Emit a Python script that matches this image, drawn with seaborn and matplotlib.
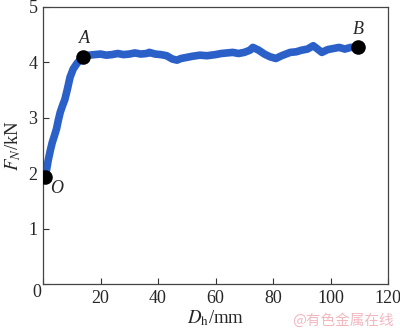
import matplotlib
matplotlib.use("Agg")
import matplotlib.pyplot as plt
import seaborn as sns
import pandas as pd

sns.set_theme(style="white")
plt.rcParams['font.family'] = ['Liberation Serif', 'DejaVu Serif']
plt.rcParams['mathtext.fontset'] = 'stix'

# Displacement D_h (mm) and force F_N (kN)
dh = [0.7, 1.2, 1.8, 2.5, 3.2, 4.0, 4.7, 5.3, 6.0, 6.8, 7.6, 8.5, 9.4, 10.5,
      11.8, 13.0, 14.0, 16, 18, 20, 22, 24, 26, 28, 30, 32, 34, 36, 37, 39,
      41, 43, 45, 46.6, 48, 50, 52, 54.6, 57, 60, 62, 64, 66, 68, 70, 72, 73,
      75, 77, 79, 81, 83, 86, 88, 90, 92, 94, 95.5, 97, 99, 101, 103, 105,
      107, 109.6]
fn = [1.93, 2.05, 2.23, 2.40, 2.55, 2.68, 2.80, 2.95, 3.10, 3.22, 3.33, 3.52,
      3.73, 3.88, 3.98, 4.05, 4.09, 4.13, 4.14, 4.15, 4.13, 4.14, 4.16, 4.14,
      4.15, 4.17, 4.15, 4.16, 4.18, 4.15, 4.14, 4.12, 4.06, 4.04, 4.07, 4.09,
      4.11, 4.13, 4.12, 4.14, 4.16, 4.17, 4.18, 4.16, 4.18, 4.22, 4.27, 4.22,
      4.15, 4.10, 4.07, 4.12, 4.18, 4.19, 4.22, 4.24, 4.30, 4.24, 4.18, 4.23,
      4.25, 4.27, 4.24, 4.27, 4.27]

pt_names = ["O", "A", "B"]
pt_x = [0.7, 14.0, 109.6]
pt_y = [1.93, 4.09, 4.27]

xticks = [0, 20, 40, 60, 80, 100, 120]
xticklabels = ["", "20", "40", "60", "80", "100", "120"]
yticks = [0, 1, 2, 3, 4, 5]
yticklabels = ["", "1", "2", "3", "4", "5"]

df = pd.DataFrame({"Dh": dh, "FN": fn})
pts = pd.DataFrame({"x": pt_x, "y": pt_y, "name": pt_names})

fig = plt.figure(figsize=(4.0, 3.31), dpi=100)
ax = fig.add_axes([0.1075, 0.142, 0.8625, 0.837])

sns.lineplot(data=df, x="Dh", y="FN", ax=ax, color="#2b60c9", lw=5.5,
             solid_capstyle="round", solid_joinstyle="round")
sns.scatterplot(data=pts, x="x", y="y", ax=ax, color="black", s=110,
                edgecolor="black", linewidth=0, zorder=5)

offsets = {"O": (4.2, -0.2), "A": (0.3, 0.34), "B": (0.0, 0.32)}
for n, x, y in zip(pt_names, pt_x, pt_y):
    dx, dy = offsets[n]
    ax.text(x + dx, y + dy, n, fontsize=13, style="italic", ha="center",
            va="center", family="Liberation Serif")

ax.set_xlim(0, 120)
ax.set_ylim(0, 5)
ax.set_xticks(xticks)
ax.set_xticklabels(xticklabels)
ax.set_yticks(yticks)
ax.set_yticklabels(yticklabels)
ax.tick_params(direction="in", length=4, width=0.8, color="#333333",
               labelsize=13, pad=4, bottom=True, left=True, top=False,
               right=False)
ax.text(-0.017, -0.03, "0", transform=ax.transAxes, fontsize=13,
        ha="center", va="center")
for s in ax.spines.values():
    s.set_color("#444444")
    s.set_linewidth(0.9)
ax.set_xlabel(r"$D_\mathrm{h}$/mm", fontsize=13.5, labelpad=1)
ax.set_ylabel(r"$F_N$/kN", fontsize=13.5, labelpad=4)

fig.text(0.985, 0.01, "@有色金属在线", color="#f2b8c0", fontsize=10.5,
         ha="right", va="bottom", family=["Noto Sans CJK SC", "DejaVu Sans"])

fig.savefig("out.png", dpi=100)
